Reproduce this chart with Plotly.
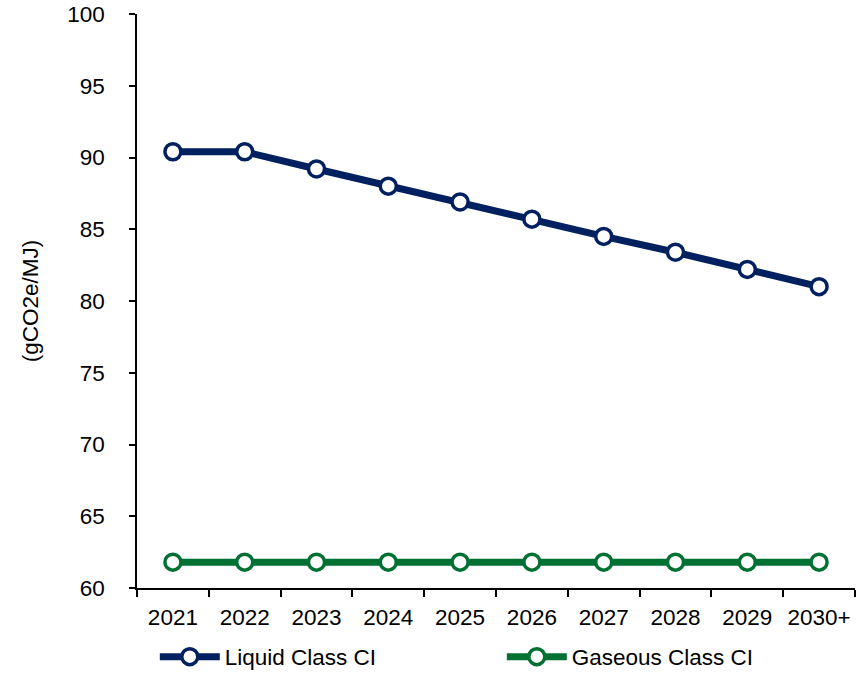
import plotly.graph_objects as go

years = ["2021", "2022", "2023", "2024", "2025", "2026", "2027", "2028", "2029", "2030+"]
liquid_ci = [90.4, 90.4, 89.2, 88.0, 86.9, 85.7, 84.5, 83.4, 82.2, 81.0]
gaseous_ci = [61.8, 61.8, 61.8, 61.8, 61.8, 61.8, 61.8, 61.8, 61.8, 61.8]

NAVY = "#002060"
GREEN = "#007033"
FONT = "Liberation Sans, Arial, sans-serif"

fig = go.Figure()
for name, vals, col in [("Liquid Class CI", liquid_ci, NAVY),
                        ("Gaseous Class CI", gaseous_ci, GREEN)]:
    fig.add_trace(go.Scatter(
        x=years, y=vals, name=name, mode="lines+markers",
        line=dict(color=col, width=7),
        marker=dict(symbol="circle", size=16, color="white",
                    line=dict(color=col, width=3.5)),
    ))

fig.update_layout(
    width=866, height=677,
    margin=dict(l=137, r=11, t=14, b=89),
    plot_bgcolor="white", paper_bgcolor="white",
    font=dict(family=FONT, size=22.5, color="black"),
    showlegend=True,
    legend=dict(orientation="h", x=160 / 866 - 0.006, xanchor="left", xref="container",
                y=(677 - 657) / 677, yanchor="middle", yref="container",
                itemwidth=60, entrywidth=272, font=dict(size=22.5),
                bgcolor="rgba(0,0,0,0)"),
    xaxis=dict(
        type="category", showgrid=False, showline=True, linecolor="black",
        linewidth=1.5, ticks="outside", tickson="boundaries", ticklen=7,
        tickcolor="black", tickwidth=1.5, range=[-0.5, 9.5], automargin=False,
        tickangle=0, ticklabelstandoff=8,
    ),
    yaxis=dict(
        range=[60, 100], dtick=5, showgrid=False, zeroline=False, showline=True,
        linecolor="black", linewidth=1.5, ticks="outside", ticklen=6,
        tickcolor="black", tickwidth=1.5, ticklabelstandoff=20, automargin=False,
        title=dict(text="(gCO2e/MJ)", font=dict(size=22.5), standoff=22),
    ),
)

fig.write_html("out.html")
